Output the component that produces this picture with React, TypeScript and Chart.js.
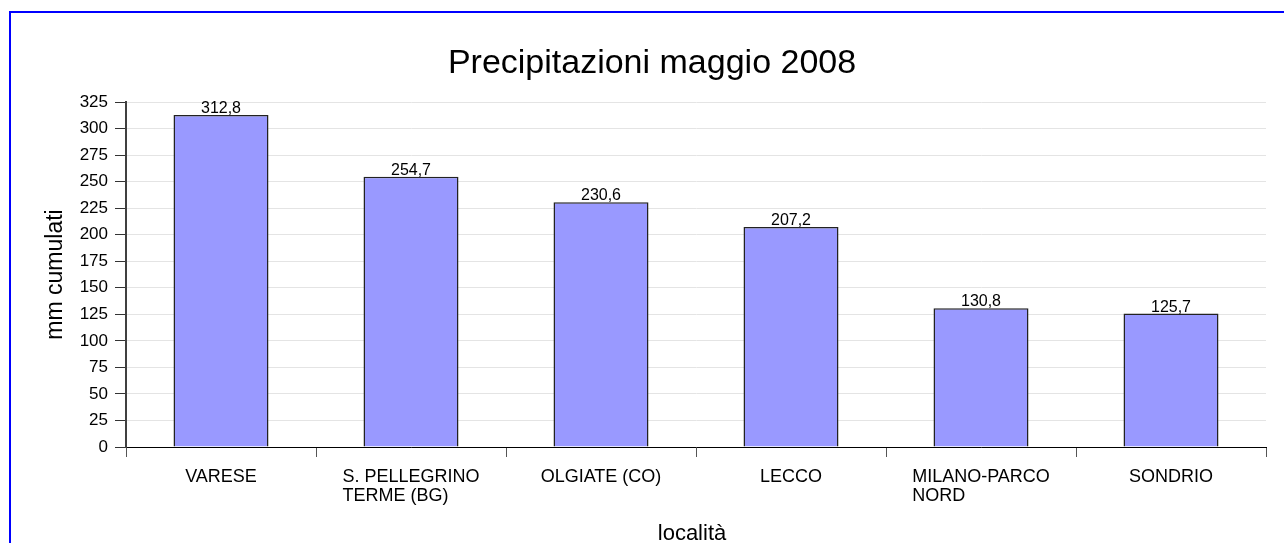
import React, { useEffect, useRef } from "react";
import { Chart, registerables } from "chart.js";

Chart.register(...registerables);

const chartTitle = "Precipitazioni maggio 2008";
const xAxisTitle = "località";
const yAxisTitle = "mm cumulati";
const categories: string[][] = [
  ["VARESE"],
  ["S. PELLEGRINO", "TERME (BG)"],
  ["OLGIATE (CO)"],
  ["LECCO"],
  ["MILANO-PARCO", "NORD"],
  ["SONDRIO"],
];
const values: number[] = [312.8, 254.7, 230.6, 207.2, 130.8, 125.7];
const yMin = 0;
const yMax = 325;
const yStep = 25;

const FONT = '"Liberation Sans", Arial, sans-serif';

const decorPlugin = {
  id: "decor",
  beforeDraw(chart: any) {
    const ctx = chart.ctx;
    ctx.save();
    ctx.fillStyle = "#ffffff";
    ctx.fillRect(0, 0, chart.width, chart.height);
    ctx.fillStyle = "#0000ff";
    ctx.fillRect(9, 11, 2, chart.height);
    ctx.fillRect(9, 11, chart.width, 2);
    ctx.restore();
  },
  afterDraw(chart: any) {
    const ctx = chart.ctx;
    const area = chart.chartArea;
    const xScale = chart.scales.x;
    ctx.save();
    ctx.fillStyle = "#000";
    ctx.font = `34px ${FONT}`;
    ctx.textAlign = "center";
    ctx.textBaseline = "alphabetic";
    ctx.fillText(chartTitle, 652, 73);
    ctx.font = `22px ${FONT}`;
    ctx.fillText(xAxisTitle, (area.left + area.right) / 2 - 4, 540);
    ctx.save();
    ctx.translate(62, (area.top + area.bottom) / 2);
    ctx.rotate(-Math.PI / 2);
    ctx.font = `23px ${FONT}`;
    ctx.textAlign = "center";
    ctx.fillText(yAxisTitle, 0, 0);
    ctx.restore();
    ctx.font = `18px ${FONT}`;
    ctx.textAlign = "left";
    categories.forEach((lines, i) => {
      const cx = xScale.getPixelForValue(i);
      const w0 = ctx.measureText(lines[0]).width;
      const left = cx - w0 / 2;
      lines.forEach((ln, j) => {
        ctx.fillText(ln, left, area.bottom + 35 + j * 19);
      });
    });
    ctx.font = `16px ${FONT}`;
    ctx.textAlign = "center";
    const meta = chart.getDatasetMeta(0);
    meta.data.forEach((bar: any, i: number) => {
      const txt = values[i].toFixed(1).replace(".", ",");
      ctx.fillText(txt, bar.x, bar.y - 2);
    });
    ctx.restore();
  },
};

export default function App() {
  const ref = useRef<HTMLCanvasElement | null>(null);
  useEffect(() => {
    if (!ref.current) return;
    const chart = new Chart(ref.current, {
      type: "bar",
      data: {
        labels: categories.map((c) => c.join(" ")),
        datasets: [
          {
            data: values,
            backgroundColor: "#9999ff",
            borderColor: "#222222",
            borderWidth: 1.5,
            borderSkipped: "start",
            barPercentage: 0.5,
            categoryPercentage: 1.0,
          },
        ],
      },
      options: {
        responsive: false,
        animation: false,
        devicePixelRatio: 1,
        layout: { padding: { left: 0, top: 102, right: 18, bottom: 0 } },
        plugins: {
          legend: { display: false },
          title: { display: false },
          tooltip: { enabled: false },
        },
        scales: {
          x: {
            offset: true,
            grid: {
              display: true,
              offset: true,
              drawOnChartArea: false,
              drawTicks: true,
              tickLength: 10,
              tickColor: "#555",
            },
            border: { display: true, color: "#000", width: 1 },
            ticks: { display: false },
            afterFit: (s: any) => {
              s.height = 96;
            },
          },
          y: {
            min: yMin,
            max: yMax,
            grid: {
              color: "#e4e4e4",
              lineWidth: 1,
              drawTicks: true,
              tickLength: 11,
              tickColor: "#333",
            },
            border: { display: true, color: "#404040", width: 2 },
            ticks: {
              stepSize: yStep,
              color: "#000",
              padding: 7,
              font: { family: FONT, size: 17 },
            },
            afterFit: (s: any) => {
              s.width = 126;
            },
          },
        },
      },
      plugins: [decorPlugin],
    } as any);
    return () => chart.destroy();
  }, []);
  return (
    <div style={{ position: "fixed", left: 0, top: 0, width: 1284, height: 543, background: "#fff" }}>
      <canvas ref={ref} width={1284} height={543} style={{ width: 1284, height: 543, display: "block" }} />
    </div>
  );
}
